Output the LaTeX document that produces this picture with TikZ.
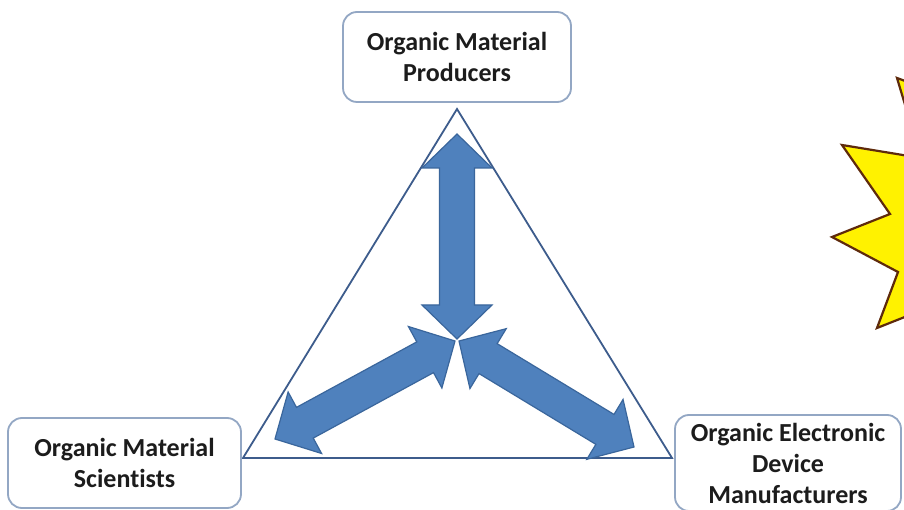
\documentclass[tikz,border=0pt]{standalone}
\usepackage{fontspec}
\setmainfont{Carlito}[Ligatures=NoCommon]
\usetikzlibrary{calc}
\definecolor{boxline}{HTML}{93A7C4}
\definecolor{txt}{HTML}{1C1C1C}
\definecolor{triline}{HTML}{3D5C8C}
\definecolor{arrfill}{HTML}{4F81BD}
\definecolor{arrline}{HTML}{3A669C}
\definecolor{starline}{HTML}{5E2A0C}
\tikzset{
  actor/.style={draw=boxline, line width=1.8pt, rounded corners=14pt, fill=white,
    align=center, font=\fontsize{26}{31}\selectfont\bfseries, text=txt, inner sep=0pt},
  arrowbody/.style={fill=arrfill, draw=arrline, line width=1.2pt, line join=miter},
  tri/.style={draw=triline, line width=1.8pt, fill=white, line join=miter},
  star/.style={fill=yellow, draw=starline, line width=2.2pt, line join=miter}
}
\newcommand{\DblArrow}[2]{%
  \draw[arrowbody] (#1)
    -- ($($(#1)!34pt!(#2)$)!35pt!90:(#2)$)
    -- ($($(#1)!34pt!(#2)$)!17.5pt!90:(#2)$)
    -- ($($(#2)!34pt!(#1)$)!17.5pt!-90:(#1)$)
    -- ($($(#2)!34pt!(#1)$)!35pt!-90:(#1)$)
    -- (#2)
    -- ($($(#2)!34pt!(#1)$)!35pt!90:(#1)$)
    -- ($($(#2)!34pt!(#1)$)!17.5pt!90:(#1)$)
    -- ($($(#1)!34pt!(#2)$)!17.5pt!-90:(#2)$)
    -- ($($(#1)!34pt!(#2)$)!35pt!-90:(#2)$)
    -- cycle;}
\begin{document}
\begin{tikzpicture}[x=1pt, y=-1pt]
\useasboundingbox (0,0) rectangle (904,510);
\fill[white] (0,0) rectangle (904,510);
% star burst (partly outside the frame)
\begin{scope}
  \clip (0,0) rectangle (904,510);
  \draw[star] (932,91) -- (897,78) -- (921,158) -- (842,145) -- (890,214)
    -- (832,237) -- (898,272) -- (877,328) -- (935,305) -- (1000,300) -- (1000,90) -- cycle;
\end{scope}
% triangle
\coordinate (apex) at (457,109);
\coordinate (bl) at (243,458);
\coordinate (br) at (672,458);
\draw[tri] (apex) -- (bl) -- (br) -- cycle;
% arrows
\coordinate (ctr) at (457,339);
\coordinate (ctrl) at (455,341);
\coordinate (ctrr) at (459,341);
\coordinate (topt) at (457,134);
\coordinate (lt) at (275,439);
\coordinate (rt) at (634,447);
\DblArrow{ctrl}{lt}
\DblArrow{ctrr}{rt}
\DblArrow{topt}{ctr}
% boxes
\node[actor, minimum width=228pt, minimum height=90pt] (prod) at (457,57)
  {Organic Material\\Producers};
\node[actor, minimum width=233pt, minimum height=90pt] (sci) at (124.5,463)
  {Organic Material\\Scientists};
\node[actor, minimum width=226pt, minimum height=96pt] (man) at (788,463)
  {Organic Electronic\\Device\\Manufacturers};
\end{tikzpicture}
\end{document}
